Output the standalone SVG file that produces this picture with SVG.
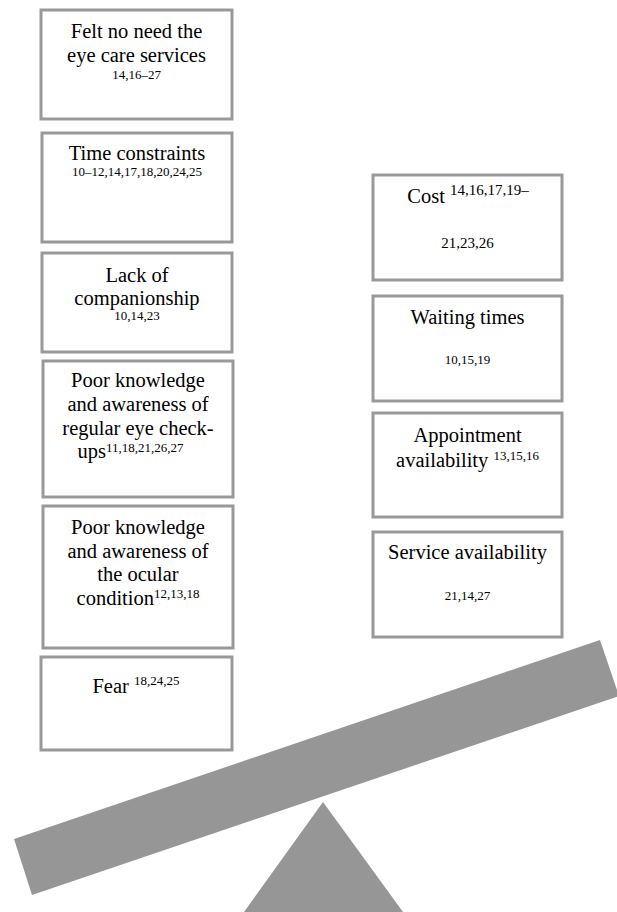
<svg xmlns="http://www.w3.org/2000/svg" width="617" height="912" viewBox="0 0 617 912">
<style>
.box{fill:#fff;stroke:#999;stroke-width:3}
text{font-family:'Liberation Serif',serif;fill:#000;text-anchor:middle}
.t{font-size:20.5px}
.s{font-size:13px}
.sup{font-size:13px}
.shape{fill:#969696}
</style>
<rect width="617" height="912" fill="#fff"/>
<g id="seesaw">
<polygon class="shape" points="14,839 600,640 619,696 32,895"/>
<polygon class="shape" points="323,802 403,912 244,912"/>
</g>
<g id="n1">
<rect class="box" x="41" y="10" width="191" height="109"/>
<text class="t" x="136.5" y="38">Felt no need the</text>
<text class="t" x="136.5" y="62">eye care services</text>
<text class="s" x="136.5" y="79">14,16–27</text>
</g>
<g id="n2">
<rect class="box" x="42" y="133" width="190" height="109"/>
<text class="t" x="137" y="160">Time constraints</text>
<text class="s" x="137" y="176">10–12,14,17,18,20,24,25</text>
</g>
<g id="n3">
<rect class="box" x="42" y="253" width="190" height="99"/>
<text class="t" x="137" y="282">Lack of</text>
<text class="t" x="137" y="305">companionship</text>
<text class="s" x="137" y="320">10,14,23</text>
</g>
<g id="n4">
<rect class="box" x="43" y="361" width="190" height="136"/>
<text class="t" x="138" y="387">Poor knowledge</text>
<text class="t" x="138" y="411">and awareness of</text>
<text class="t" x="138" y="435">regular eye check-</text>
<text class="t" x="130.5" y="458">ups<tspan class="sup" dy="-6">11,18,21,26,27</tspan></text>
</g>
<g id="n5">
<rect class="box" x="43" y="506" width="190" height="142"/>
<text class="t" x="138" y="534">Poor knowledge</text>
<text class="t" x="138" y="558">and awareness of</text>
<text class="t" x="138" y="581">the ocular</text>
<text class="t" x="138" y="605">condition<tspan class="sup" dy="-7">12,13,18</tspan></text>
</g>
<g id="n6">
<rect class="box" x="41" y="657" width="191" height="93"/>
<text class="t" x="136" y="693">Fear <tspan class="sup" dy="-8">18,24,25</tspan></text>
</g>
<g id="n7">
<rect class="box" x="373" y="175" width="189" height="105"/>
<text class="t" x="468" y="203">Cost <tspan style="font-size:15px" dy="-8">14,16,17,19–</tspan></text>
<text class="s" x="467.5" y="248" style="font-size:15px">21,23,26</text>
</g>
<g id="n8">
<rect class="box" x="373" y="296" width="189" height="105"/>
<text class="t" x="467.5" y="324">Waiting times</text>
<text class="s" x="467.5" y="364">10,15,19</text>
</g>
<g id="n9">
<rect class="box" x="373" y="413" width="189" height="104"/>
<text class="t" x="467.5" y="442">Appointment</text>
<text class="t" x="467.5" y="467">availability <tspan class="sup" dy="-7">13,15,16</tspan></text>
</g>
<g id="n10">
<rect class="box" x="373" y="532" width="189" height="105"/>
<text class="t" x="467.5" y="559">Service availability</text>
<text class="s" x="467.5" y="600">21,14,27</text>
</g>
<g id="connectors"></g>
</svg>
